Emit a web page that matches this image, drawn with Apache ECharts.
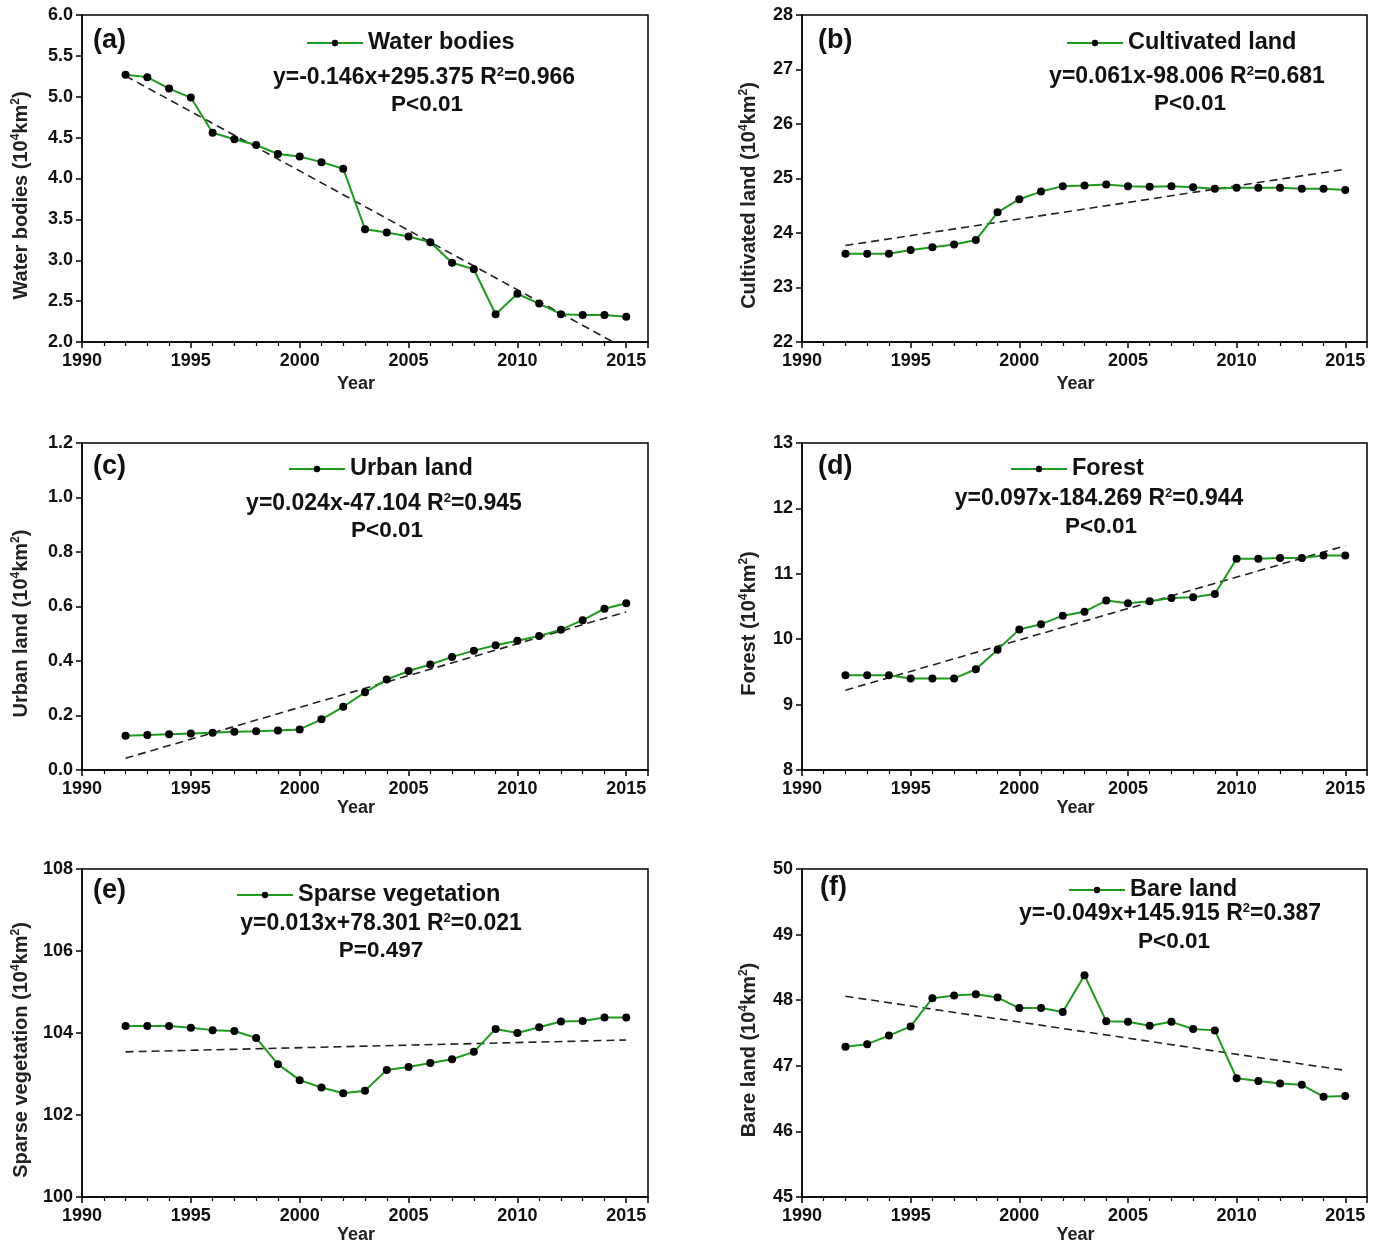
<!DOCTYPE html>
<html><head><meta charset="utf-8">
<script src="https://cdn.jsdelivr.net/npm/echarts@6/dist/echarts.min.js"></script>
<style>html,body{margin:0;padding:0;background:#fff}#c{width:1381px;height:1241px}</style>
</head><body><div id="c"></div>
<script>
const years = [1992,1993,1994,1995,1996,1997,1998,1999,2000,2001,2002,2003,2004,2005,2006,2007,2008,2009,2010,2011,2012,2013,2014,2015];

const waterBodies = [5.27,5.24,5.10,4.99,4.56,4.48,4.41,4.30,4.27,4.20,4.12,3.38,3.34,3.29,3.22,2.97,2.89,2.34,2.59,2.47,2.34,2.33,2.33,2.31];
const cultivatedLand = [23.62,23.62,23.62,23.69,23.74,23.79,23.87,24.38,24.62,24.76,24.86,24.87,24.89,24.86,24.85,24.86,24.84,24.81,24.83,24.83,24.83,24.81,24.81,24.79];
const urbanLand = [0.126,0.128,0.131,0.134,0.137,0.140,0.142,0.145,0.149,0.186,0.232,0.285,0.332,0.363,0.387,0.415,0.438,0.458,0.474,0.492,0.515,0.550,0.592,0.612];
const forest = [9.45,9.45,9.45,9.40,9.40,9.40,9.54,9.84,10.15,10.23,10.36,10.42,10.59,10.55,10.58,10.63,10.64,10.69,11.23,11.23,11.24,11.24,11.28,11.28];
const sparseVegetation = [104.17,104.17,104.17,104.13,104.07,104.05,103.88,103.24,102.85,102.67,102.53,102.59,103.10,103.17,103.27,103.36,103.54,104.10,104.00,104.14,104.28,104.29,104.38,104.38];
const bareLand = [47.29,47.33,47.46,47.60,48.03,48.07,48.09,48.04,47.88,47.88,47.82,48.38,47.68,47.67,47.61,47.67,47.56,47.54,46.81,46.77,46.73,46.71,46.53,46.54];

// fitted trend lines: end points
const waterTrend = [[1992,5.255],[2014.4,2.0]];
const cultivatedTrend = [[1992,23.77],[2015,25.17]];
const urbanTrend = [[1992,0.043],[2015,0.58]];
const forestTrend = [[1992,9.22],[2015,11.43]];
const sparseTrend = [[1992,103.54],[2015,103.83]];
const bareTrend = [[1992,48.06],[2015,46.93]];

const seriesNames = ['Water bodies','Cultivated land','Urban land','Forest','Sparse vegetation','Bare land'];
const panelLetters = ['(a)','(b)','(c)','(d)','(e)','(f)'];
const equations = [
  ['y=-0.146x+295.375 R','=0.966','P<0.01'],
  ['y=0.061x-98.006 R','=0.681','P<0.01'],
  ['y=0.024x-47.104 R','=0.945','P<0.01'],
  ['y=0.097x-184.269 R','=0.944','P<0.01'],
  ['y=0.013x+78.301 R','=0.021','P=0.497'],
  ['y=-0.049x+145.915 R','=0.387','P<0.01']
];
const yRanges = [[2,6,0.5,1],[22,28,1,0],[0,1.2,0.2,1],[8,13,1,0],[100,108,2,0],[45,50,1,0]];
const xTicks = [1990,2016,5];

const values = [waterBodies,cultivatedLand,urbanLand,forest,sparseVegetation,bareLand];
const trends = [waterTrend,cultivatedTrend,urbanTrend,forestTrend,sparseTrend,bareTrend];

// layout
const FONT = '"Liberation Sans", Arial, sans-serif';
const gridPos = [
  {left:82, top:15, width:566, height:327},
  {left:802, top:15, width:565, height:327},
  {left:82, top:443, width:566, height:327},
  {left:802, top:443, width:565, height:327},
  {left:82, top:869, width:566, height:328},
  {left:802, top:869, width:565, height:328}
];
const yearGap = [33,33,28,28,28,28];
const legendPos = [[306,41],[1066,41],[288,467],[1010,467],[236,893],[1068,888]];
const eqPos = [[424,78,427,105],[1187,77,1190,104],[384,504,387,531],[1099,499,1101,527],[381,924,381,951],[1170,914,1174,942]];
const letterPos = [[93,41],[818,41],[93,467],[818,467],[93,891],[820,888]];

const GREEN = '#1e9a1e';
const grids=[], xAxes=[], yAxes=[], series=[], legends=[], graphics=[];

for (let i=0;i<6;i++){
  const g = gridPos[i];
  grids.push({left:g.left, top:g.top, width:g.width, height:g.height, show:true, borderColor:'#000', borderWidth:1.5,
    containLabel:false, outerBoundsMode:'none'});
  xAxes.push({
    type:'value', gridIndex:i, min:xTicks[0], max:xTicks[1], interval:xTicks[2],
    name:'Year', nameLocation:'middle', nameGap:yearGap[i],
    nameTextStyle:{fontFamily:FONT, fontWeight:'bold', fontSize:18, color:'#222', padding:[0,18,0,0]},
    axisLine:{lineStyle:{color:'#000', width:1.5}},
    axisTick:{show:true, length:6, lineStyle:{color:'#000', width:1.5}},
    minorTick:{show:true, splitNumber:5, length:4, lineStyle:{color:'#000', width:1.2}},
    splitLine:{show:false},
    axisLabel:{fontFamily:FONT, fontWeight:'bold', fontSize:18, color:'#111', margin:10, showMaxLabel:false,
      formatter: v=>String(v)}
  });
  const r = yRanges[i];
  yAxes.push({
    type:'value', gridIndex:i, min:r[0], max:r[1], interval:r[2],
    name:'{n|'+seriesNames[i]+' (10}{s|4}{n|km}{s|2}{n|)}', nameLocation:'middle', nameGap: (i%2===0 ? 49 : 41),
    nameRotate:90,
    nameTextStyle:{
      fontFamily:FONT, fontWeight:'bold', fontSize:20, color:'#222', padding:[0,34,0,0],
      rich:{
        n:{fontFamily:FONT, fontWeight:'bold', fontSize:20, color:'#222', lineHeight:23},
        s:{fontFamily:FONT, fontWeight:'bold', fontSize:12, color:'#222', lineHeight:12, verticalAlign:'top'}
      }
    },
    axisLine:{lineStyle:{color:'#000', width:1.5}},
    axisTick:{show:true, length:6, lineStyle:{color:'#000', width:1.5}},
    splitLine:{show:false},
    axisLabel:{fontFamily:FONT, fontWeight:'bold', fontSize:18, color:'#111', margin:9,
      formatter: r[3] ? (v=>v.toFixed(1)) : (v=>String(v))}
  });
  series.push({
    name:seriesNames[i], type:'line', xAxisIndex:i, yAxisIndex:i,
    data: years.map((y,k)=>[y, values[i][k]]),
    symbol:'circle', symbolSize:8,
    itemStyle:{color:'#000'},
    lineStyle:{color:GREEN, width:2},
    z:3
  });
  series.push({
    name:seriesNames[i]+' fit', type:'line', xAxisIndex:i, yAxisIndex:i,
    data: trends[i], symbol:'none', silent:true,
    lineStyle:{color:'#222', width:1.6, type:[8,5]},
    z:2, clip:true
  });
  legends.push({
    data:[{name:seriesNames[i], itemStyle:{color:'#000'}, lineStyle:{color:GREEN, width:2}}],
    left:legendPos[i][0], top:legendPos[i][1]-10, itemWidth:56, itemHeight:8, itemGap:6, padding:0,
    selectedMode:false,
    textStyle:{fontFamily:FONT, fontWeight:'bold', fontSize:23.5, color:'#111'}
  });
  const e = equations[i], p = eqPos[i];
  graphics.push({
    type:'text', x:p[0], y:p[1],
    style:{
      text:'{n|'+e[0]+'}{s|2}{n|'+e[1]+'}', align:'center', verticalAlign:'middle',
      rich:{
        n:{fontFamily:FONT, fontWeight:'bold', fontSize:23, fill:'#111', lineHeight:25},
        s:{fontFamily:FONT, fontWeight:'bold', fontSize:13, fill:'#111', lineHeight:13, verticalAlign:'top'}
      }
    }
  });
  graphics.push({
    type:'text', x:p[2], y:p[3],
    style:{text:e[2], align:'center', verticalAlign:'middle', fontFamily:FONT, fontWeight:'bold', fontSize:22.5, fill:'#111'}
  });
  graphics.push({
    type:'text', x:letterPos[i][0], y:letterPos[i][1],
    style:{text:panelLetters[i], align:'left', verticalAlign:'middle', fontFamily:FONT, fontWeight:'bold', fontSize:27, fill:'#111'}
  });
}

const chart = echarts.init(document.getElementById('c'), null, {renderer:'canvas'});
chart.setOption({
  backgroundColor:'#fff',
  animation:false,
  grid:grids, xAxis:xAxes, yAxis:yAxes, series:series, legend:legends, graphic:graphics
});
</script>
</body></html>
